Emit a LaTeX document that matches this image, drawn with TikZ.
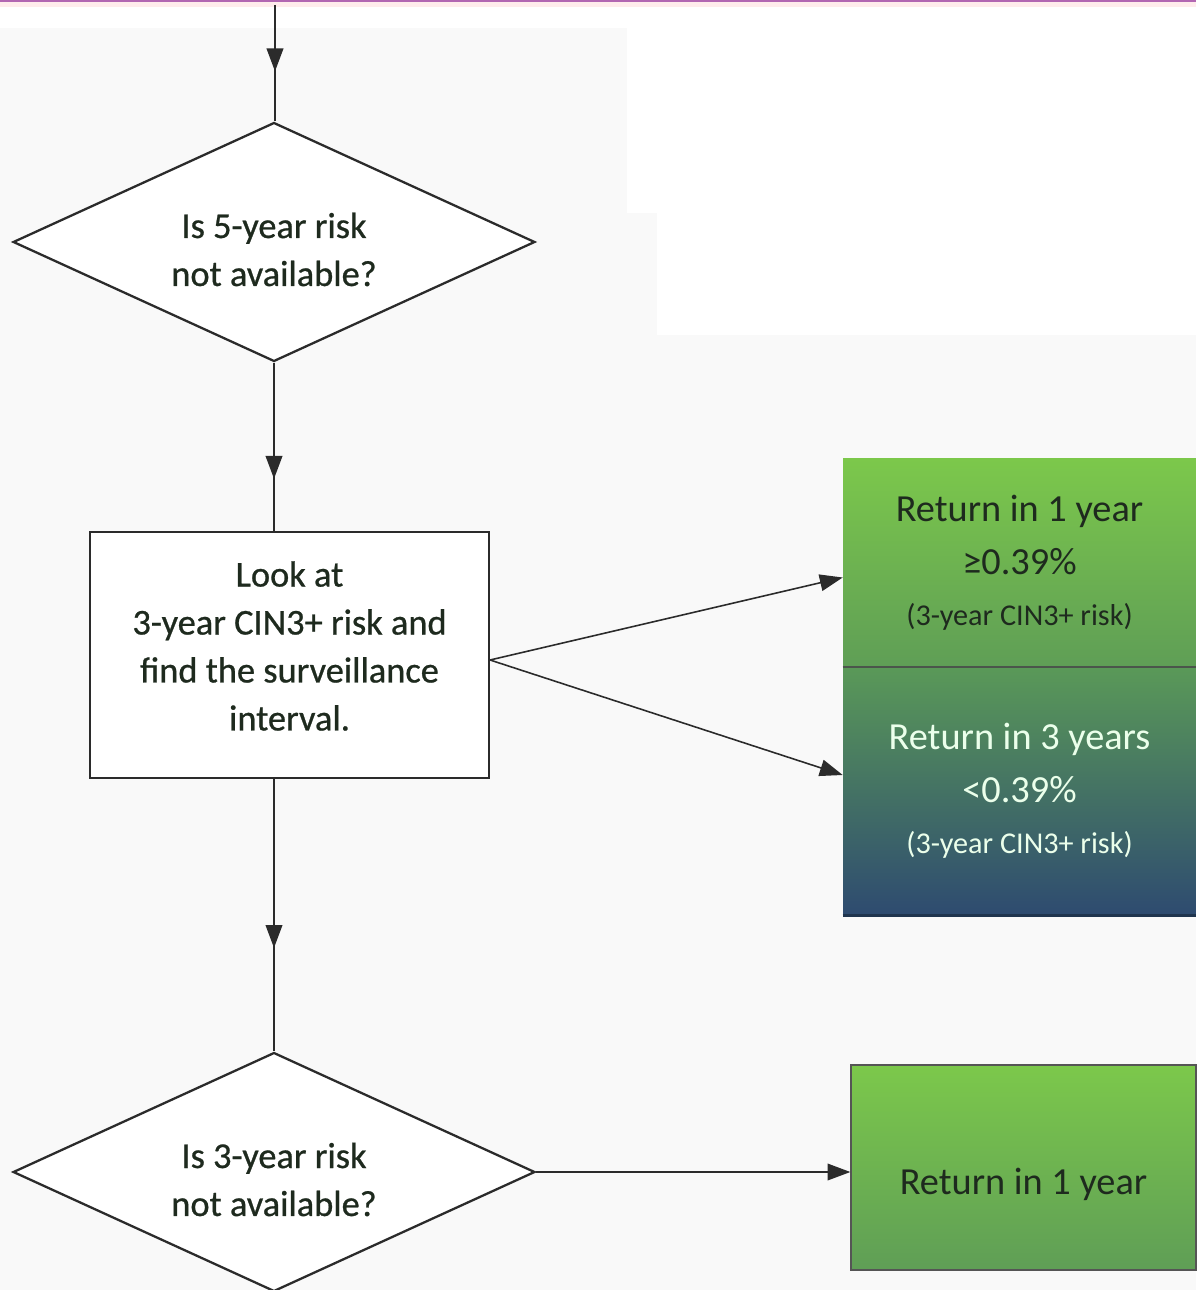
\documentclass[tikz,border=0pt]{standalone}
\usepackage{fontspec}
\setmainfont{Carlito}
\newfontfamily\heavyfont{Carlito}[FakeBold=0.7]
\usetikzlibrary{shapes.geometric,arrows.meta,decorations.markings,calc}

\definecolor{bggray}{HTML}{F9F9F9}
\definecolor{linegray}{HTML}{2B2B2B}
\definecolor{greentop}{HTML}{7CC84B}
\definecolor{greenbot}{HTML}{5F9E56}
\definecolor{navytop}{HTML}{5A9958}
\definecolor{navybot}{HTML}{2E4B70}
\definecolor{darktext}{HTML}{1E2A1E}

\newcommand{\shifted}[2]{\raisebox{#1}[0pt][0pt]{\begin{tabular}{@{}c@{}}#2\end{tabular}}}

\tikzset{
  question/.style={diamond,shape aspect=2.18,draw=linegray,line width=1.3pt,fill=white,inner sep=0pt,
    minimum width=10.44cm,minimum height=4.78cm,text=darktext,
    font=\heavyfont\fontsize{20.7}{27.3}\selectfont},
  lookbox/.style={rectangle,draw=linegray,line width=1.2pt,fill=white,
    minimum width=7.98cm,minimum height=4.92cm,text=darktext,
    font=\heavyfont\fontsize{20.7}{27.3}\selectfont},
  result/.style={rectangle,inner sep=0pt,align=center,
    font=\fontsize{21.8}{31}\selectfont},
  midarrow/.style={postaction={decorate},decoration={markings,
    mark=at position #1 with {\arrow{Triangle[length=13pt,width=9.5pt]}}}},
  connector/.style={draw=linegray,line width=0.9pt},
}

\begin{document}
\begin{tikzpicture}[x=0.02cm,y=-0.02cm]
	\useasboundingbox (0,0) rectangle (1196,1290);
	% background
	\fill[bggray] (0,0) rectangle (1196,1290);
	\fill[white] (627,5) -- (1196,5) -- (1196,335) -- (657,335) -- (657,213) -- (627,213) -- cycle;
	\fill[white] (0,5) rectangle (627,28);
	\fill[pink!30] (0,2) rectangle (1196,7);
	\fill[violet!60] (0,0) rectangle (1196,2.5);
	
	% decisions and boxes
	\node[question] (avail5) at (274,242) {\shifted{-0.39cm}{Is 5-year risk\\not available?}};
	\node[lookbox] (look) at (289.5,655) {\shifted{-0.06cm}{Look at\\3-year CIN3+ risk and\\find the surveillance\\interval.}};
	\node[question] (avail3) at (274,1172) {\shifted{-0.39cm}{Is 3-year risk\\not available?}};
	
	\node[result,minimum width=7.06cm,minimum height=4.18cm,top color=greentop,bottom color=greenbot,text=darktext]
		(oneyear) at (1019.5,562.5) {Return in 1 year\\[-1pt]≥0.39\%\\[-2pt]{\fontsize{17.2}{22}\selectfont (3-year CIN3+ risk)}};
	\node[result,minimum width=7.06cm,minimum height=4.96cm,top color=navytop,bottom color=navybot,text=white!92!green]
		(threeyear) at (1019.5,791) {Return in 3 years\\[-1pt]<0.39\%\\[-2pt]{\fontsize{17.2}{22}\selectfont (3-year CIN3+ risk)}};
	\draw[line width=1.2pt,color=darktext!80] (oneyear.south west) -- (oneyear.south east);
	\draw[line width=1.5pt,color=navybot!70!black] (threeyear.south west) -- (threeyear.south east);
	\node[result,draw=linegray!80,line width=0.8pt,minimum width=6.9cm,minimum height=4.1cm,top color=greentop,bottom color=greenbot,text=darktext]
		(oneyearb) at (1023.5,1167.5) {\raisebox{-0.53cm}[0pt][0pt]{Return in 1 year}};
	
	% connectors
	\coordinate (entry) at (275,5);
	\draw[connector,midarrow=0.57] (entry) -- (entry |- avail5.north);
	\draw[connector,midarrow=0.69] (avail5.south) -- (avail5.south |- look.north);
	\draw[connector,midarrow=0.62] (avail5.south |- look.south) -- (avail3.north);
	\draw[connector,-{Triangle[length=13pt,width=9.5pt]}] ([yshift=-0.1cm]look.east) -- ([yshift=-0.3cm]oneyear.west);
	\draw[connector,-{Triangle[length=13pt,width=9.5pt]}] ([yshift=-0.1cm]look.east) -- ([yshift=0.32cm]threeyear.west);
	\draw[connector,-{Triangle[length=13pt,width=9.5pt]}] (avail3.east) -- (avail3.east -| oneyearb.west);
\end{tikzpicture}
\end{document}
